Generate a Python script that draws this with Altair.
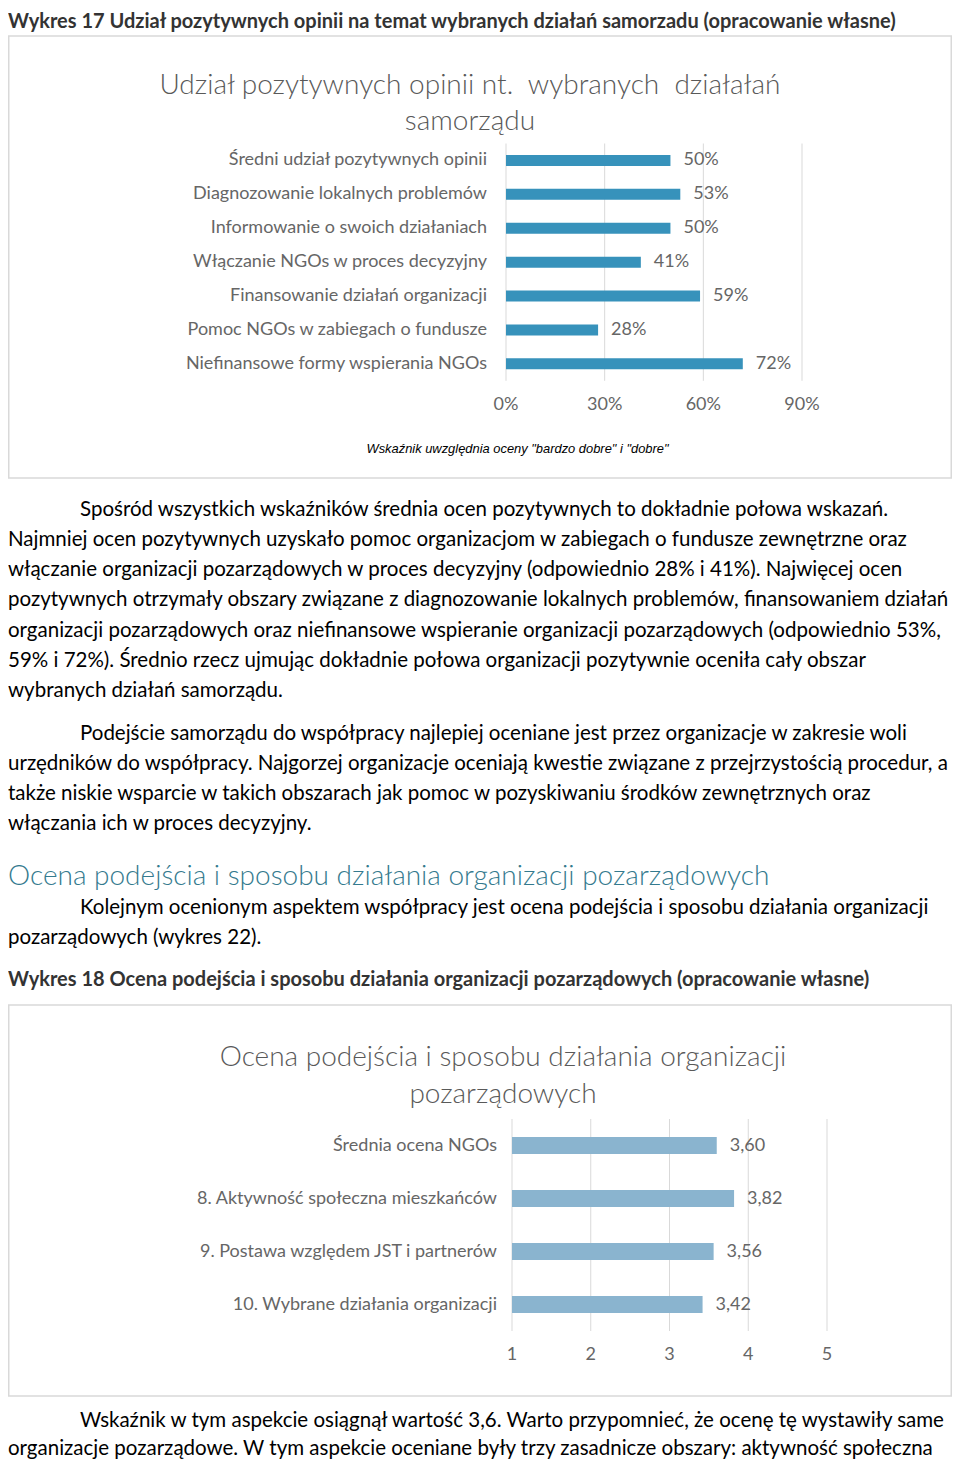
import altair as alt
import pandas as pd

# ------------------------------------------------------------------ data
caption1 = "Wykres 17 Udział pozytywnych opinii na temat wybranych działań samorzadu (opracowanie własne)"
title1_lines = ["Udział pozytywnych opinii nt.\u00a0 wybranych\u00a0 działałań", "samorządu"]
categories1 = [
    "Średni udział pozytywnych opinii",
    "Diagnozowanie lokalnych problemów",
    "Informowanie o swoich działaniach",
    "Włączanie NGOs w proces decyzyjny",
    "Finansowanie działań organizacji",
    "Pomoc NGOs w zabiegach o fundusze",
    "Niefinansowe formy wspierania NGOs",
]
values1 = [0.50, 0.53, 0.50, 0.41, 0.59, 0.28, 0.72]
ticks1 = [0.0, 0.3, 0.6, 0.9]
note1 = 'Wskaźnik uwzględnia oceny "bardzo dobre" i "dobre"'

paragraph1 = [
    "Spośród wszystkich wskaźników średnia ocen pozytywnych to dokładnie połowa wskazań.",
    "Najmniej ocen pozytywnych uzyskało pomoc organizacjom w zabiegach o fundusze zewnętrzne oraz",
    "włączanie organizacji pozarządowych w proces decyzyjny (odpowiednio 28% i 41%). Najwięcej ocen",
    "pozytywnych otrzymały obszary związane z diagnozowanie lokalnych problemów, finansowaniem działań",
    "organizacji pozarządowych oraz niefinansowe wspieranie organizacji pozarządowych (odpowiednio 53%,",
    "59% i 72%). Średnio rzecz ujmując dokładnie połowa organizacji pozytywnie oceniła cały obszar",
    "wybranych działań samorządu.",
]
paragraph2 = [
    "Podejście samorządu do współpracy najlepiej oceniane jest przez organizacje w zakresie woli",
    "urzędników do współpracy. Najgorzej organizacje oceniają kwestie związane z przejrzystością procedur, a",
    "także niskie wsparcie w takich obszarach jak pomoc w pozyskiwaniu środków zewnętrznych oraz",
    "włączania ich w proces decyzyjny.",
]
heading = "Ocena podejścia i sposobu działania organizacji pozarządowych"
paragraph3 = [
    "Kolejnym ocenionym aspektem współpracy jest ocena podejścia i sposobu działania organizacji",
    "pozarządowych (wykres 22).",
]
caption2 = "Wykres 18 Ocena podejścia i sposobu działania organizacji pozarządowych (opracowanie własne)"
title2_lines = ["Ocena podejścia i sposobu działania organizacji", "pozarządowych"]
categories2 = [
    "Średnia ocena NGOs",
    "8. Aktywność społeczna mieszkańców",
    "9. Postawa względem JST i partnerów",
    "10. Wybrane działania organizacji",
]
values2 = [3.60, 3.82, 3.56, 3.42]
ticks2 = [1, 2, 3, 4, 5]
paragraph4 = [
    "Wskaźnik w tym aspekcie osiągnął wartość 3,6. Warto przypomnieć, że ocenę tę wystawiły same",
    "organizacje pozarządowe. W tym aspekcie oceniane były trzy zasadnicze obszary: aktywność społeczna",
]

# ------------------------------------------------------------------ layout / style
OX, OY = 8, 8          # page offset of the chart origin (body margin)
W, H = 944, 1452
BODY = "Lato"
CHART_GREY = "#595959"
LABEL_GREY = "#666666"
GRID = "#d9d9d9"
BAR1 = "#3792bb"
BAR2 = "#8ab4cf"
HEAD_BLUE = "#347a8e"

BODY_SIZE = 20.5
CAP_SIZE = 20
TITLE_SIZE = 28
LAB_SIZE = 18
LINE = 30.3


def text_block(lines, x0, y0, step, size, color, font=BODY, weight="normal",
               style="normal", align="left", indent=None):
    rows = []
    for i, t in enumerate(lines):
        x = indent if (i == 0 and indent is not None) else x0
        rows.append({"t": t, "px": max(x - OX, 0), "py": y0 + i * step - OY})
    return alt.Chart(pd.DataFrame(rows)).mark_text(
        align=align, baseline="middle", font=font, fontSize=size, color=color,
        fontWeight=weight, fontStyle=style,
    ).encode(
        x=alt.X("px:Q", scale=None),
        y=alt.Y("py:Q", scale=None),
        text="t:N",
    )


def box(y0, y1):
    return alt.Chart(pd.DataFrame({"k": [0]})).mark_rect(
        fillOpacity=0, stroke=GRID, strokeWidth=1.5
    ).encode(
        x=alt.value(0.75), x2=alt.value(W - 0.75),
        y=alt.value(y0 - OY), y2=alt.value(y1 - OY),
    )


def bar_chart(cats, vals, ticks, domain, xr, yr, pad_in, color, label_x, tick_y,
              tick_fmt, val_expr, base):
    df = pd.DataFrame({"cat": cats, "val": vals})
    dt = pd.DataFrame({"t": ticks})
    xs = alt.Scale(domain=domain, range=[xr[0] - OX, xr[1] - OX], nice=False, zero=False)
    ys = alt.Scale(domain=cats, range=[yr[0] - OY, yr[1] - OY],
                   paddingInner=pad_in, paddingOuter=pad_in / 2)
    grid = alt.Chart(dt).mark_rule(color=GRID, strokeWidth=1).encode(
        x=alt.X("t:Q", scale=xs, axis=None),
        y=alt.value(yr[0] - OY), y2=alt.value(yr[1] - OY),
    )
    bars = alt.Chart(df).mark_bar(color=color).encode(
        x=alt.X("val:Q", scale=xs, axis=None),
        x2=alt.datum(base),
        y=alt.Y("cat:N", scale=ys, axis=None, sort=cats),
    )
    vlabels = alt.Chart(df).transform_calculate(lab=val_expr).mark_text(
        align="left", baseline="middle", dx=13, font=BODY,
        fontSize=LAB_SIZE, color=LABEL_GREY,
    ).encode(
        x=alt.X("val:Q", scale=xs, axis=None),
        y=alt.Y("cat:N", scale=ys, axis=None, sort=cats),
        text="lab:N",
    )
    clabels = alt.Chart(df).mark_text(
        align="right", baseline="middle", font=BODY,
        fontSize=LAB_SIZE, color=LABEL_GREY,
    ).encode(
        x=alt.value(label_x - OX),
        y=alt.Y("cat:N", scale=ys, axis=None, sort=cats),
        text="cat:N",
    )
    tlabels = alt.Chart(dt).transform_calculate(lab=tick_fmt).mark_text(
        align="center", baseline="middle", font=BODY,
        fontSize=LAB_SIZE, color=LABEL_GREY,
    ).encode(
        x=alt.X("t:Q", scale=xs, axis=None),
        y=alt.value(tick_y - OY),
        text="lab:N",
    )
    return [grid, bars, vlabels, clabels, tlabels]


layers = []
# caption 1
layers.append(text_block([caption1], 5, 21.5, LINE, CAP_SIZE, "#333333", weight="bold"))
# chart 1
layers.append(box(36, 478))
layers.append(text_block(title1_lines, 470, 86, 36, TITLE_SIZE, CHART_GREY, weight=300, align="center"))
layers += bar_chart(categories1, values1, ticks1, [0, 0.9], (506, 802), (143.5, 380.8), 0.675,
                    BAR1, 487, 405, "format(datum.t, '.0%')",
                    "format(datum.val, '.0%')", 0)
layers.append(text_block([note1], 517.5, 449, LINE, 12.9, "#000000",
                         font="Liberation Sans", style="italic", align="center"))
# paragraphs
layers.append(text_block(paragraph1, 5, 509.5, LINE, BODY_SIZE, "#000000", indent=80))
layers.append(text_block(paragraph2, 5, 733.5, LINE, BODY_SIZE, "#000000", indent=80))
layers.append(text_block([heading], 5, 877, LINE, TITLE_SIZE, HEAD_BLUE, weight=300))
layers.append(text_block(paragraph3, 5, 907.5, LINE, BODY_SIZE, "#000000", indent=80))
layers.append(text_block([caption2], 5, 980, LINE, CAP_SIZE, "#333333", weight="bold"))
# chart 2
layers.append(box(1005, 1396))
layers.append(text_block(title2_lines, 503, 1058, 37, TITLE_SIZE, CHART_GREY, weight=300, align="center"))
layers += bar_chart(categories2, values2, ticks2, [1, 5], (512, 827), (1119, 1331), 0.68,
                    BAR2, 497, 1355, "format(datum.t, 'd')",
                    "replace(format(datum.val, '.2f'), '.', ',')", 1)
layers.append(text_block(paragraph4, 5, 1421, 27.5, BODY_SIZE, "#000000", indent=80))

chart = alt.layer(*layers).resolve_scale(x="independent", y="independent").properties(
    width=W, height=H, padding=0, autosize=alt.AutoSizeParams(type="none"),
    background="white",
).configure_view(stroke=None)

chart.save("out.html", embed_options={"renderer": "svg", "actions": False})
